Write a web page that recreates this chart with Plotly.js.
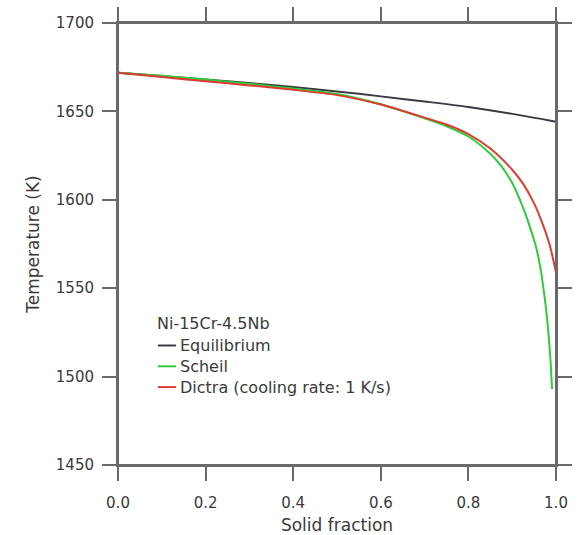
<!DOCTYPE html>
<html>
<head>
<meta charset="utf-8">
<script src="https://cdn.plot.ly/plotly-3.0.1.min.js"></script>
<style>html,body{margin:0;padding:0;background:#fff;}#chart{width:578px;height:535px;}</style>
</head>
<body>
<div id="chart"></div>
<script>
// ---- data ----
const seriesNames = ["Equilibrium", "Scheil", "Dictra (cooling rate: 1 K/s)"];
const legendTitle = "Ni-15Cr-4.5Nb";

const eqX = [0, 0.1, 0.2, 0.3, 0.4, 0.5, 0.6, 0.7, 0.8, 0.9, 1.0];
const eqT = [1671.8, 1670.0, 1668.0, 1666.0, 1663.8, 1661.3, 1658.5, 1655.6, 1652.5, 1648.6, 1644.2];

const scheilX = [0, 0.1, 0.2, 0.3, 0.4, 0.5, 0.6, 0.65, 0.7, 0.75, 0.8, 0.85, 0.875, 0.9, 0.925, 0.94, 0.956, 0.966, 0.974, 0.98, 0.985, 0.988, 0.991];
const scheilT = [1671.8, 1670.1, 1668.0, 1665.6, 1662.9, 1659.8, 1654.0, 1650.2, 1646.1, 1641.6, 1635.8, 1626.0, 1619.0, 1609.5, 1595.5, 1585.0, 1571.8, 1559.0, 1545.0, 1532.0, 1517.5, 1507.0, 1493.0];

const dictraX = [0, 0.1, 0.2, 0.3, 0.4, 0.5, 0.6, 0.65, 0.7, 0.75, 0.8, 0.85, 0.9, 0.925, 0.95, 0.97, 0.985, 1.0];
const dictraT = [1671.8, 1669.4, 1667.0, 1664.7, 1662.2, 1659.2, 1653.9, 1650.3, 1646.5, 1642.6, 1637.2, 1629.0, 1617.0, 1609.0, 1598.0, 1586.0, 1575.0, 1559.0];

const xTicks = [0, 0.2, 0.4, 0.6, 0.8, 1.0];
const xTickText = ["0.0", "0.2", "0.4", "0.6", "0.8", "1.0"];
const yTicks = [1450, 1500, 1550, 1600, 1650, 1700];

// ---- styles ----
const colors = ["#3a3a44", "#2fcc3a", "#dc3c32"];
const axisColor = "#6a6a6a";
const textColor = "#3a3a3a";
const fontFamily = "DejaVu Sans, sans-serif";

const xs = [eqX, scheilX, dictraX];
const ys = [eqT, scheilT, dictraT];

const traces = seriesNames.map((n, i) => ({
  type: "scatter", mode: "lines", name: n,
  x: xs[i], y: ys[i],
  line: {color: colors[i], width: 2, shape: "spline", smoothing: 0.8},
  showlegend: false
}));

// custom legend: title + entries (one multi-line text block) + sample lines
const legFont = {family: fontFamily, size: 16, color: textColor};
const rowGap = 16 * 1.3;
const rowPx0 = 345.5;                   // pixel centre of the first entry row
const toPaperY = py => (465 - py) / 442;
const toPaperX = px => (px - 118) / 438.5;
const annotations = [{
  xref: "paper", yref: "paper", x: toPaperX(156), y: toPaperY(323), xanchor: "left", yanchor: "middle",
  text: legendTitle, showarrow: false, font: legFont, borderpad: 0
}, {
  xref: "paper", yref: "paper", x: toPaperX(179), y: toPaperY(rowPx0 + rowGap), xanchor: "left", yanchor: "middle",
  align: "left", text: seriesNames.join("<br>"), showarrow: false, font: legFont, borderpad: 0
}];
const shapes = [];
seriesNames.forEach((n, i) => {
  const yy = toPaperY(rowPx0 + i * rowGap);
  shapes.push({type: "line", xref: "paper", yref: "paper", x0: toPaperX(158), x1: toPaperX(176), y0: yy, y1: yy,
    line: {color: colors[i], width: 2}});
});
// extended frame lines (axes cross past the corners)
const ex = 14 / 438.5, ey = 14 / 442;
[[-ex, 1 + ex, 0, 0], [-ex, 1 + ex, 1, 1], [0, 0, -ey, 1 + ey], [1, 1, -ey, 1 + ey]].forEach(s => {
  shapes.push({type: "line", xref: "paper", yref: "paper", x0: s[0], x1: s[1], y0: s[2], y1: s[3],
    line: {color: axisColor, width: 2}, layer: "above"});
});

const layout = {
  width: 578, height: 535,
  margin: {l: 118, r: 21.5, t: 23, b: 70},
  paper_bgcolor: "#fff", plot_bgcolor: "#fff",
  font: {family: fontFamily, color: textColor, size: 15},
  showlegend: false,
  xaxis: {
    range: [0, 1], tickvals: xTicks, ticktext: xTickText,
    showgrid: false, zeroline: false, showline: true, linecolor: axisColor, linewidth: 2,
    mirror: "ticks", ticks: "outside", ticklen: 14, tickwidth: 2, tickcolor: axisColor,
    tickfont: {family: fontFamily, size: 15, color: textColor},
    ticklabelstandoff: 9,
    title: {text: "Solid fraction", font: {family: fontFamily, size: 17, color: textColor}, standoff: 8}
  },
  yaxis: {
    range: [1450, 1700], tickvals: yTicks,
    showgrid: false, zeroline: false, showline: true, linecolor: axisColor, linewidth: 2,
    mirror: "ticks", ticks: "outside", ticklen: 14, tickwidth: 2, tickcolor: axisColor,
    tickfont: {family: fontFamily, size: 15, color: textColor},
    ticklabelstandoff: 5,
    title: {text: "Temperature (K)", font: {family: fontFamily, size: 17, color: textColor}, standoff: 12}
  },
  annotations: annotations,
  shapes: shapes
};

Plotly.newPlot("chart", traces, layout, {displayModeBar: false, staticPlot: true});
</script>
</body>
</html>
